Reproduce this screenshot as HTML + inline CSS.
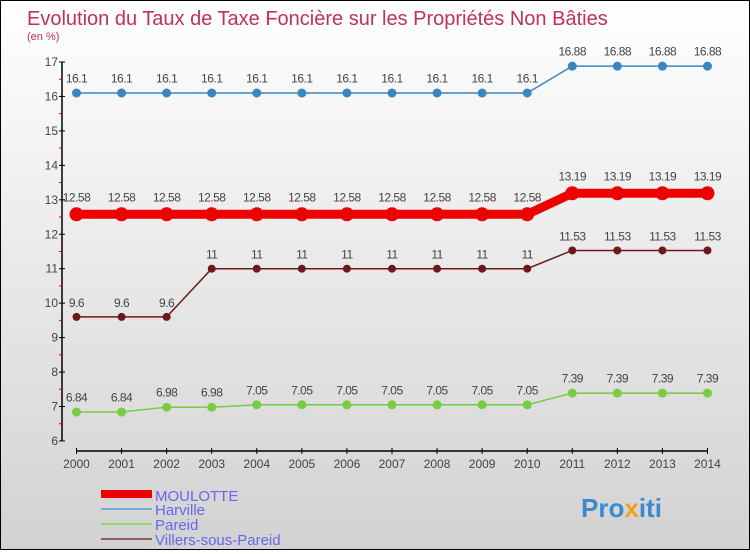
<!DOCTYPE html>
<html><head><meta charset="utf-8"><style>
html,body{margin:0;padding:0;}
body{width:750px;height:550px;overflow:hidden;font-family:"Liberation Sans",sans-serif;}
#wrap{position:relative;width:748px;height:548px;border:1px solid #000;background:linear-gradient(#ffffff,#d2d2d2);}
</style></head><body>
<div id="wrap">
<svg id="chart" width="748" height="548" xmlns="http://www.w3.org/2000/svg">
<text x="26" y="24" font-size="20" fill="#c0305a">Evolution du Taux de Taxe Foncière sur les Propriétés Non Bâties</text>
<text x="26" y="39" font-size="11" fill="#c0305a">(en %)</text>
<g id="axes"></g>
<g id="series"></g>
<g>
<rect x="100" y="489" width="51" height="8" fill="#ee0000"/>
<text x="154" y="500" font-size="15" fill="#6666ee">MOULOTTE</text>
<rect x="100" y="507" width="51" height="2" fill="#7aaed0"/>
<text x="154" y="514" font-size="15" fill="#6666ee">Harville</text>
<rect x="100" y="522" width="51" height="2" fill="#88dd66"/>
<text x="154" y="529" font-size="15" fill="#6666ee">Pareid</text>
<rect x="100" y="537" width="51" height="2" fill="#906060"/>
<text x="154" y="544" font-size="15" fill="#6666ee">Villers-sous-Pareid</text>
</g>
<text x="580" y="516" font-size="26" font-weight="bold" fill="#3a8ad0">Pro<tspan fill="#f0a020">x</tspan>iti</text>
</svg>
</div>
<script>
const years = [2000,2001,2002,2003,2004,2005,2006,2007,2008,2009,2010,2011,2012,2013,2014];
const yTicks = [6,7,8,9,10,11,12,13,14,15,16,17];
const moulotte = [12.58,12.58,12.58,12.58,12.58,12.58,12.58,12.58,12.58,12.58,12.58,13.19,13.19,13.19,13.19];
const harville = [16.1,16.1,16.1,16.1,16.1,16.1,16.1,16.1,16.1,16.1,16.1,16.88,16.88,16.88,16.88];
const pareid = [6.84,6.84,6.98,6.98,7.05,7.05,7.05,7.05,7.05,7.05,7.05,7.39,7.39,7.39,7.39];
const villers = [9.6,9.6,9.6,11,11,11,11,11,11,11,11,11.53,11.53,11.53,11.53];

const NS="http://www.w3.org/2000/svg";
function xS(i){return 75.5+i*45.07;}
function yS(v){return 61+(17-v)*34.45;}
function mk(tag,attrs,parent){const e=document.createElementNS(NS,tag);for(const k in attrs)e.setAttribute(k,attrs[k]);parent.appendChild(e);return e;}
const axes=document.getElementById('axes');
const ser=document.getElementById('series');
let e;
e=mk('line',{x1:61,y1:yS(17),x2:61,y2:yS(6),stroke:'#000','stroke-width':1.5},axes);


e=mk('line',{x1:xS(0),y1:450,x2:xS(years.length-1),y2:450,stroke:'#000','stroke-width':1.5},axes);


yTicks.forEach(function(t){
  mk('line',{x1:58,y1:yS(t),x2:64,y2:yS(t),stroke:'#000'},axes);
  if(t<17) mk('line',{x1:58,y1:yS(t+0.5),x2:61,y2:yS(t+0.5),stroke:'#e00'},axes);
  const tx=mk('text',{x:57,y:yS(t)+4,'font-size':12,fill:'#444','text-anchor':'end'},axes);
  tx.textContent=t;
  
  
});
years.forEach(function(yr,i){
  mk('line',{x1:xS(i),y1:447,x2:xS(i),y2:453,stroke:'#000'},axes);
  const tx=mk('text',{x:xS(i),y:467,'font-size':12,fill:'#444','text-anchor':'middle'},axes);
  tx.textContent=yr;
  
  
});
function series(vals,color,lw,r,name){
  const g=mk('g',{},ser);
  
  
  const pts=vals.map(function(v,i){return xS(i)+','+yS(v);}).join(' ');
  mk('polyline',{points:pts,fill:'none',stroke:color,'stroke-width':lw},g);
  vals.forEach(function(v,i){
    const c=mk('circle',{cx:xS(i),cy:yS(v),r:r,fill:color},g);
    
    
    const t=mk('text',{x:xS(i),y:yS(v)-(r+6),'font-size':12,fill:'#444','text-anchor':'middle','letter-spacing':'-0.5'},g);
    t.textContent=v;
    
    
  });
}
series(harville,'#3a86c0',1.5,4.5,'harville');
series(villers,'#6a1a1a',1.5,4,'villers');
series(pareid,'#77cc44',1.5,4.5,'pareid');
series(moulotte,'#ee0000',9,7,'moulotte');
</script>
</body></html>
